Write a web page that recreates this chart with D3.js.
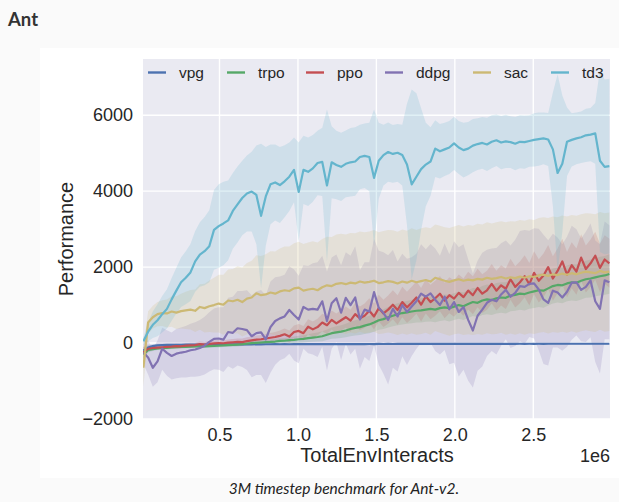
<!DOCTYPE html>
<html>
<head>
<meta charset="utf-8">
<script src="https://cdn.jsdelivr.net/npm/d3@7"></script>
<style>
  html, body { margin: 0; padding: 0; background: #fafafa; }
  svg { display: block; }
</style>
</head>
<body>
<svg id="chart" width="619" height="502"></svg>
<script>
// ---------------- DATA ----------------
const seriesNames = ["vpg", "trpo", "ppo", "ddpg", "sac", "td3"];
const xTickValues = [500000, 1000000, 1500000, 2000000, 2500000];
const xTickLabels = ["0.5", "1.0", "1.5", "2.0", "2.5"];
const yTickValues = [-2000, 0, 2000, 4000, 6000];
const yTickLabels = ["\u22122000", "0", "2000", "4000", "6000"];
const firstStep = 15000, stepSize = 30000, nPoints = 100;

const vpgMean = [-200,-120,-80,-60,-55,-50,-48,-45,-45,-42,-40,-42,-40,-38,-40,-38,-36,-38,-35,-36,-34,-35,-33,-34,-32,-33,-31,-32,-30,-31,
 -30,-31,-29,-30,-28,-30,-28,-29,-27,-28,-27,-28,-26,-27,-26,-27,-25,-26,-25,-26,-24,-25,-24,-25,-23,-24,-23,-24,-22,-23,
 -22,-23,-22,-23,-21,-22,-21,-22,-21,-22,-20,-21,-20,-21,-20,-21,-20,-21,-19,-20,-19,-20,-19,-20,-19,-20,-18,-19,-18,-19,
 -18,-19,-18,-19,-18,-19,-18,-19,-18,-19];
const vpgStd = [80,60,50,40,35,30,28,26,25,24,23,22,22,21,21,20,20,20,20,20,20,20,20,20,20,20,20,20,20,20,
 20,20,20,20,20,20,20,20,20,20,20,20,20,20,20,20,20,20,20,20,20,20,20,20,20,20,20,20,20,20,
 20,20,20,20,20,20,20,20,20,20,20,20,20,20,20,20,20,20,20,20,20,20,20,20,20,20,20,20,20,20,
 20,20,20,20,20,20,20,20,20,20];

const trpoMean = [-300,-180,-160,-140,-130,-125,-115,-110,-100,-100,-95,-90,-85,-85,-80,-75,-70,-60,-55,-50,
 -40,-30,-15,0,5,15,25,30,40,55,60,75,85,100,110,130,145,160,180,220,
 260,280,300,330,370,400,420,460,490,540,600,630,680,720,760,790,810,830,850,860,
 880,900,880,920,940,920,960,1000,970,1030,1080,1060,1120,1150,1130,1180,1200,1190,1250,1270,
 1300,1290,1330,1360,1390,1380,1440,1500,1530,1520,1570,1600,1590,1640,1680,1700,1730,1760,1780,1820];
const trpoStd = [120,60,50,45,40,40,40,40,40,40,40,40,40,40,40,40,45,45,45,50,50,50,55,55,60,60,65,65,70,70,
 75,80,85,90,95,100,110,120,130,140,150,160,170,180,190,200,210,220,230,240,250,260,270,280,290,300,300,310,310,320,
 320,330,330,340,340,350,350,360,360,370,370,380,380,390,390,400,400,410,410,420,420,430,430,440,440,450,450,460,460,470,
 470,480,480,490,490,500,500,510,510,520];

const ppoMean = [-250,-150,-130,-120,-110,-100,-95,-80,-85,-70,-60,-55,-30,-40,-20,-10,0,-5,10,20,
 30,25,50,70,90,100,120,140,160,190,230,170,290,320,260,430,360,420,540,470,
 610,520,600,680,590,760,650,720,850,700,920,780,880,1010,870,1080,940,1060,1200,1010,
 1230,1080,1180,1300,1120,1260,1170,1320,1210,1380,1260,1450,1300,1390,1560,1380,1520,1430,1680,1480,
 1600,1760,1550,1850,1640,1780,2000,1700,1900,2150,1800,2050,1880,2250,1950,2100,2300,1980,2200,2100];
const ppoStd = [150,80,60,55,55,55,55,60,60,60,65,65,70,70,75,75,80,80,85,85,90,95,100,105,110,115,120,125,130,140,
 150,160,170,180,190,200,210,220,230,240,250,260,270,280,290,300,310,320,330,340,350,360,370,380,390,400,410,420,430,440,
 450,455,460,465,470,475,480,485,490,495,500,505,510,515,520,525,530,535,540,545,550,555,560,565,570,575,580,585,590,595,
 600,605,610,615,620,625,630,635,640,645];

const ddpgMean = [-250,-380,-650,-480,-150,-260,-340,-280,-250,-230,-190,-170,-130,-70,30,110,120,90,290,270,
 390,370,340,180,260,280,100,420,580,650,700,870,740,620,950,880,900,880,1100,580,
 1050,1180,800,1190,1000,1200,620,880,830,1340,930,790,610,900,700,1000,820,960,1100,1300,
 1220,1310,1140,1000,1220,890,1080,820,950,610,330,720,880,1060,1140,1100,1280,1400,1220,1320,
 1500,1480,1560,1570,1410,1150,1060,1380,1330,1200,1350,1590,1600,1400,1480,1650,1100,900,1650,1600];
const ddpgStd = [300,450,500,550,550,600,620,650,660,680,700,720,740,760,780,800,820,850,900,950,
 980,1000,1050,1080,1100,1120,1150,1200,1150,1100,1100,1150,1200,1150,1100,1150,1200,1250,1200,1300,
 1200,1150,1250,1200,1300,1350,1300,1250,1300,1400,1500,1600,1700,1550,1450,1350,1400,1300,1250,1300,
 1250,1300,1350,1300,1400,1450,1600,1700,1650,1600,1500,1450,1500,1400,1350,1400,1350,1300,1350,1400,
 1450,1500,1400,1450,1600,1700,1650,1500,1450,1400,1450,1500,1400,1350,1450,1500,1600,1700,1550,1500];

const sacMean = [-650,540,680,760,790,780,830,800,840,860,880,850,950,920,970,1000,1040,1010,1120,1100,
 1140,1080,1170,1200,1310,1260,1280,1330,1300,1360,1390,1370,1440,1460,1380,1410,1430,1390,1470,1520,
 1500,1560,1580,1550,1590,1570,1620,1590,1610,1640,1580,1600,1630,1610,1570,1620,1590,1640,1600,1630,
 1660,1620,1720,1680,1640,1610,1650,1680,1640,1670,1650,1690,1670,1720,1690,1710,1740,1700,1730,1710,
 1750,1720,1760,1740,1780,1800,1770,1810,1790,1830,1800,1840,1810,1850,1880,1860,1840,1900,1860,1880];
const sacStd = [500,300,300,320,340,370,400,430,460,490,520,560,600,640,680,720,760,790,820,850,
 880,910,940,970,1000,1030,1060,1090,1110,1130,1150,1170,1190,1210,1230,1240,1250,1260,1270,1280,
 1290,1300,1300,1310,1310,1320,1320,1330,1330,1340,1340,1350,1350,1360,1360,1370,1370,1380,1380,1390,
 1390,1400,1400,1410,1410,1420,1420,1430,1430,1440,1440,1450,1450,1460,1460,1470,1470,1480,1480,1490,
 1490,1500,1500,1500,1510,1510,1520,1520,1520,1530,1530,1530,1540,1540,1540,1550,1550,1550,1560,1560];

const td3Mean = [50,300,480,600,760,900,1150,1380,1600,1720,1860,2150,2330,2420,2550,2980,3080,3150,3230,3480,
 3650,3820,3940,3990,3900,3350,3860,4180,4230,4160,4260,4380,4560,3980,4560,4510,4600,4740,4770,4150,
 4760,4690,4640,4720,4760,4780,4900,4930,4900,4350,4800,4950,5030,4980,5010,4950,4700,4180,4380,4580,
 4700,4780,5120,5050,5100,5150,5260,5150,5080,5120,5200,5240,5270,5230,5300,5340,5280,5310,5290,5250,
 5300,5290,5320,5350,5370,5390,5360,5100,4480,4720,5300,5350,5390,5420,5470,5490,5520,4800,4640,4660];
const td3Std = [100,250,350,420,480,520,560,600,650,700,750,800,850,900,950,1050,1100,1100,1050,1000,
 1000,980,1000,1050,1300,1900,1300,1050,1000,1000,950,900,850,1300,900,900,880,850,900,2000,
 950,900,900,880,900,900,850,850,900,1800,1000,800,780,760,760,800,1600,2500,2200,1600,
 1100,900,750,720,700,700,700,700,720,700,700,680,680,700,700,680,700,700,680,700,
 700,700,680,700,700,680,700,1500,2600,1800,900,700,680,680,700,700,800,2400,2300,2300];

const seriesMeans = [vpgMean, trpoMean, ppoMean, ddpgMean, sacMean, td3Mean];
const seriesStds = [vpgStd, trpoStd, ppoStd, ddpgStd, sacStd, td3Std];
const seriesColors = ["#4c72b0", "#55a868", "#c44e52", "#8172b2", "#ccb974", "#64b5cd"];

// ---------------- LAYOUT ----------------
const svg = d3.select("#chart");
const W = 619, H = 502;
const plot = { left: 143, right: 610, top: 59, bottom: 419 };
const fontSans = "'Liberation Sans', Arial, Helvetica, sans-serif";
const fontLato = "Lato, 'Noto Sans', sans-serif";

svg.append("rect").attr("x", 0).attr("y", 0).attr("width", W).attr("height", H).attr("fill", "#fafafa");
svg.append("rect").attr("x", 40).attr("y", 48).attr("width", W - 40).attr("height", 430).attr("fill", "#ffffff");

svg.append("text").attr("x", 8).attr("y", 26).text("Ant")
  .attr("font-family", fontLato).attr("font-weight", "bold").attr("font-size", 18.5).attr("fill", "#333");

svg.append("text").attr("x", 344).attr("y", 494).attr("text-anchor", "middle")
  .text("3M timestep benchmark for Ant-v2.")
  .attr("font-family", fontLato).attr("font-style", "italic").attr("font-size", 15.5).attr("fill", "#222");

const x = d3.scaleLinear().domain([12430, 2989000]).range([plot.left, plot.right]);
const y = d3.scaleLinear().domain([-2000, 7480]).range([plot.bottom, plot.top]);

svg.append("rect").attr("x", plot.left).attr("y", plot.top)
  .attr("width", plot.right - plot.left).attr("height", plot.bottom - plot.top).attr("fill", "#eaeaf2");

svg.append("clipPath").attr("id", "clip").append("rect")
  .attr("x", plot.left).attr("y", plot.top)
  .attr("width", plot.right - plot.left).attr("height", plot.bottom - plot.top);

// grid
const grid = svg.append("g");
grid.selectAll("line.gx").data(xTickValues).join("line")
  .attr("x1", d => x(d)).attr("x2", d => x(d)).attr("y1", plot.top).attr("y2", plot.bottom)
  .attr("stroke", "#fff").attr("stroke-width", 1.4);
grid.selectAll("line.gy").data(yTickValues).join("line")
  .attr("y1", d => y(d)).attr("y2", d => y(d)).attr("x1", plot.left).attr("x2", plot.right)
  .attr("stroke", "#fff").attr("stroke-width", 1.4);

// axes (labels only)
const xAxis = d3.axisBottom(x).tickValues(xTickValues).tickFormat((d, i) => xTickLabels[i]).tickSize(0).tickPadding(9);
const gx = svg.append("g").attr("transform", `translate(0,${plot.bottom})`).call(xAxis);
gx.select(".domain").remove();
gx.selectAll("text").attr("font-family", fontSans).attr("font-size", 18).attr("fill", "#262626");

const yAxis = d3.axisLeft(y).tickValues(yTickValues).tickFormat((d, i) => yTickLabels[i]).tickSize(0).tickPadding(10);
const gy = svg.append("g").attr("transform", `translate(${plot.left},0)`).call(yAxis);
gy.select(".domain").remove();
gy.selectAll("text").attr("font-family", fontSans).attr("font-size", 18).attr("fill", "#262626");

svg.append("text").attr("x", 377).attr("y", 462).attr("text-anchor", "middle").text("TotalEnvInteracts")
  .attr("font-family", fontSans).attr("font-size", 20).attr("fill", "#262626");
svg.append("text").attr("x", 610).attr("y", 462).attr("text-anchor", "end").text("1e6")
  .attr("font-family", fontSans).attr("font-size", 18).attr("fill", "#262626");
svg.append("text").attr("transform", `translate(73,${(plot.top + plot.bottom) / 2}) rotate(-90)`)
  .attr("text-anchor", "middle").text("Performance")
  .attr("font-family", fontSans).attr("font-size", 20).attr("fill", "#262626");

// series: all bands first, then all lines on top (matplotlib z-order)
const steps = d3.range(nPoints).map(i => firstStep + stepSize * i);
const area = d3.area().x(d => x(d.s)).y0(d => y(d.m - d.sd)).y1(d => y(d.m + d.sd));
const line = d3.line().x(d => x(d.s)).y(d => y(d.m));
const bandLayer = svg.append("g").attr("clip-path", "url(#clip)");
const lineLayer = svg.append("g").attr("clip-path", "url(#clip)");

seriesNames.forEach((name, k) => {
  const pts = steps.map((s, i) => ({ s, m: seriesMeans[k][i], sd: seriesStds[k][i] }));
  bandLayer.append("path").datum(pts).attr("d", area)
    .attr("fill", seriesColors[k]).attr("fill-opacity", 0.2).attr("stroke", "none");
  lineLayer.append("path").datum(pts).attr("d", line)
    .attr("fill", "none").attr("stroke", seriesColors[k]).attr("stroke-width", 2.2)
    .attr("stroke-linejoin", "round");
});

// legend
const legendX = [148, 227, 306, 385, 473, 551];
const lg = svg.append("g");
seriesNames.forEach((name, k) => {
  lg.append("line").attr("x1", legendX[k]).attr("x2", legendX[k] + 18).attr("y1", 72.5).attr("y2", 72.5)
    .attr("stroke", seriesColors[k]).attr("stroke-width", 2.4);
  lg.append("text").attr("x", legendX[k] + 31).attr("y", 77.5).text(name)
    .attr("font-family", fontSans).attr("font-size", 15.5).attr("fill", "#262626");
});
</script>
</body>
</html>
